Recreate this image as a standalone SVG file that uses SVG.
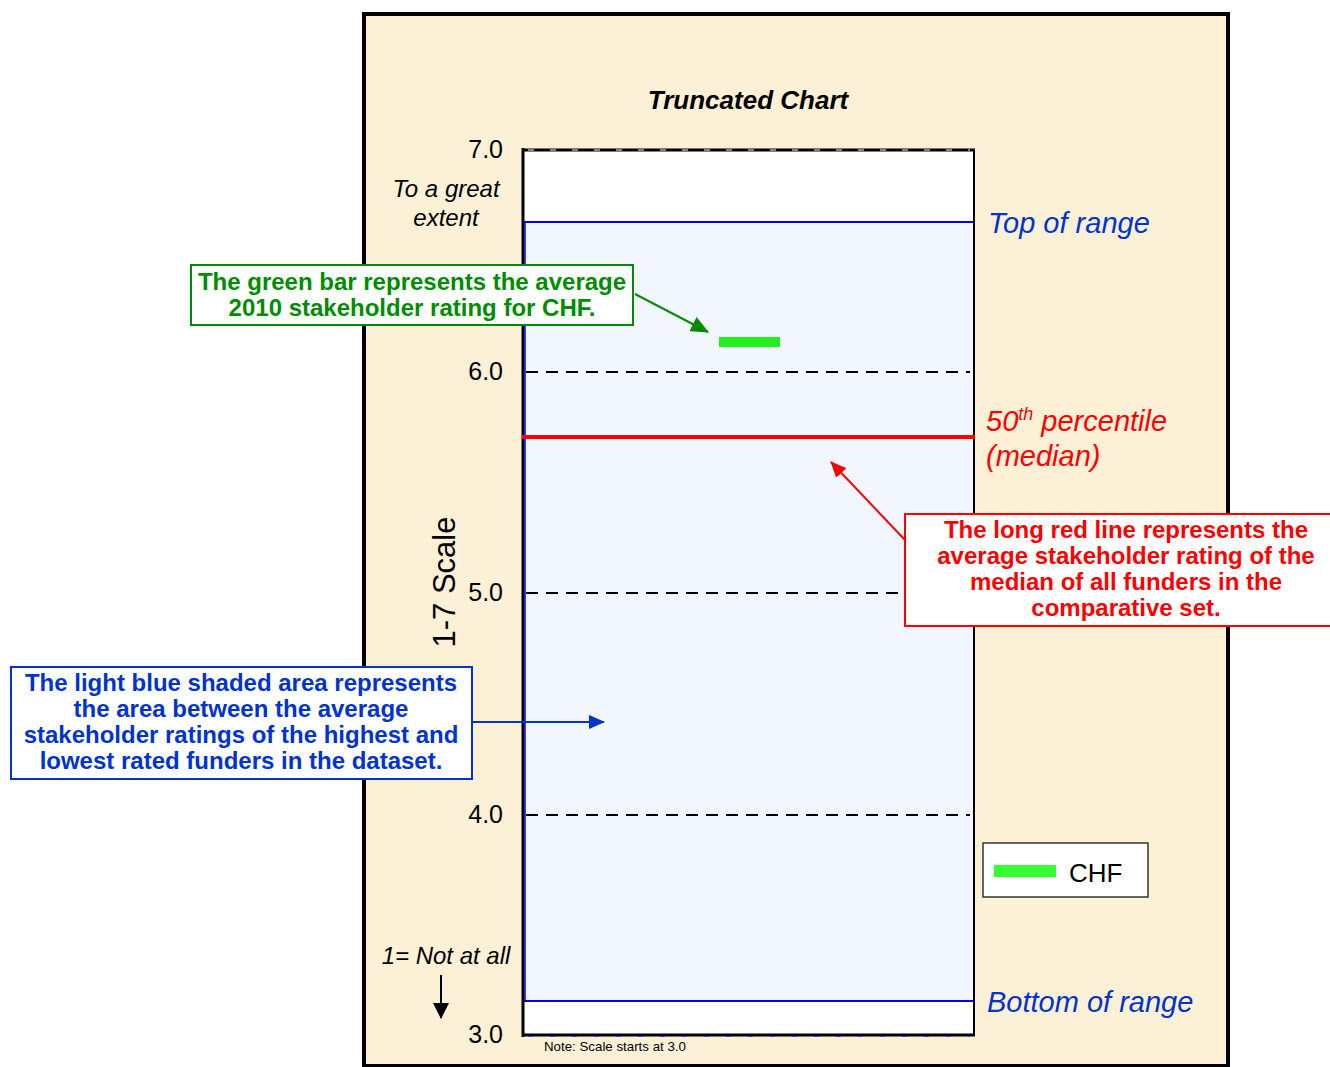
<svg xmlns="http://www.w3.org/2000/svg" width="1330" height="1067" viewBox="0 0 1330 1067">
<style>
text{font-family:"Liberation Sans",Arial,sans-serif}
.ax{font-size:25px;fill:#000;text-anchor:end}
.it{font-style:italic}
.grid{stroke:#000;stroke-width:2;stroke-dasharray:12 8}
.cg{fill:#008C00;font-weight:bold;font-size:24px;text-anchor:middle}
.cr{fill:#FF0000;font-weight:bold;font-size:24px;text-anchor:middle}
.cb{fill:#0033CC;font-weight:bold;font-size:24px;text-anchor:middle}
.lbl{font-size:29px;font-style:italic}
</style>
<defs>
<marker id="agL" markerWidth="18" markerHeight="16" refX="17" refY="8" orient="auto" markerUnits="userSpaceOnUse"><path d="M0,0 L18,8 L0,16 z" fill="#008C00"/></marker>
<marker id="ar" markerWidth="16" markerHeight="14" refX="15" refY="7" orient="auto" markerUnits="userSpaceOnUse"><path d="M0,0 L16,7 L0,14 z" fill="#FF0000"/></marker>
<marker id="ab" markerWidth="16" markerHeight="14" refX="15" refY="7" orient="auto" markerUnits="userSpaceOnUse"><path d="M0,0 L16,7 L0,14 z" fill="#0033CC"/></marker>
<marker id="ak" markerWidth="16" markerHeight="16" refX="15" refY="8" orient="auto" markerUnits="userSpaceOnUse"><path d="M0,0 L16,8 L0,16 z" fill="#000"/></marker>
</defs>

<g id="frame">
<rect x="364" y="14" width="864" height="1052" fill="#FCF1D6" stroke="#000" stroke-width="4"/>
</g>

<g id="plot">
<rect x="523" y="150" width="451" height="885" fill="#FFFFFF"/>
<rect x="523" y="222" width="451" height="779" fill="#F2F6FF"/>
<line x1="523" y1="222" x2="974" y2="222" stroke="#0000EE" stroke-width="2"/>
<line x1="523" y1="1001" x2="974" y2="1001" stroke="#0000EE" stroke-width="2"/>
<line class="grid" x1="526" y1="372" x2="970" y2="372"/>
<line class="grid" x1="526" y1="593" x2="970" y2="593"/>
<line class="grid" x1="526" y1="815" x2="970" y2="815"/>
<line x1="522" y1="150" x2="975" y2="150" stroke="#000" stroke-width="3"/>
<line x1="528" y1="150" x2="970" y2="150" stroke="#FFF" stroke-width="1" stroke-dasharray="6 16"/>
<line x1="522" y1="1035" x2="975" y2="1035" stroke="#000" stroke-width="3"/>
<line x1="528" y1="1036" x2="970" y2="1036" stroke="#0000EE" stroke-width="1" stroke-dasharray="5 17"/>
<line x1="523" y1="148" x2="523" y2="1037" stroke="#000" stroke-width="3"/>
<line x1="525" y1="222" x2="525" y2="1001" stroke="#0000EE" stroke-width="1.5"/>
<line x1="974" y1="149" x2="974" y2="1036" stroke="#000" stroke-width="2"/>
<line x1="522" y1="437" x2="975" y2="437" stroke="#FF0000" stroke-width="4"/>
<rect x="719" y="337" width="61" height="10" fill="#22EE22"/>
</g>

<g id="axis-labels">
<text class="ax" x="503" y="158">7.0</text>
<text class="ax" x="503" y="380">6.0</text>
<text class="ax" x="503" y="601">5.0</text>
<text class="ax" x="503" y="823">4.0</text>
<text class="ax" x="503" y="1043">3.0</text>
<text class="it" x="446" y="197" font-size="24" text-anchor="middle">To a great</text>
<text class="it" x="446" y="226" font-size="24" text-anchor="middle">extent</text>
<text x="444" y="582" font-size="31" text-anchor="middle" transform="rotate(-90 444 582)" dy="11">1-7 Scale</text>
<text class="it" x="446" y="964" font-size="24" text-anchor="middle">1= Not at all</text>
<text x="748" y="109" font-size="26" font-weight="bold" font-style="italic" text-anchor="middle">Truncated Chart</text>
<text x="544" y="1051" font-size="13.3">Note: Scale starts at 3.0</text>
</g>

<g id="range-labels">
<text class="lbl" x="988" y="233" fill="#0033CC">Top of range</text>
<text class="lbl" x="986" y="431" fill="#FF0000">50<tspan font-size="18" dy="-11">th</tspan><tspan dy="11"> percentile</tspan></text>
<text class="lbl" x="986" y="466" fill="#FF0000">(median)</text>
<text class="lbl" x="987" y="1012" fill="#0033CC">Bottom of range</text>
</g>

<g id="legend">
<rect x="983" y="843" width="165" height="54" fill="#FFFFFF" stroke="#333" stroke-width="1.5"/>
<rect x="994" y="865" width="62" height="12" fill="#33FF33"/>
<text x="1069" y="882" font-size="26">CHF</text>
</g>

<g id="callout-green">
<rect x="191" y="265" width="442" height="60" fill="#FFFFFF" stroke="#008C00" stroke-width="2"/>
<text class="cg" x="412" y="290">The green bar represents the average</text>
<text class="cg" x="412" y="316">2010 stakeholder rating for CHF.</text>
</g>

<g id="callout-red">
<rect x="905" y="514" width="430" height="112" fill="#FFFFFF" stroke="#FF0000" stroke-width="2"/>
<text class="cr" x="1126" y="538">The long red line represents the</text>
<text class="cr" x="1126" y="564">average stakeholder rating of the</text>
<text class="cr" x="1126" y="590">median of all funders in the</text>
<text class="cr" x="1126" y="616">comparative set.</text>
</g>

<g id="callout-blue">
<rect x="11" y="667" width="461" height="112" fill="#FFFFFF" stroke="#0033CC" stroke-width="2"/>
<text class="cb" x="241" y="691">The light blue shaded area represents</text>
<text class="cb" x="241" y="717">the area between the average</text>
<text class="cb" x="241" y="743">stakeholder ratings of the highest and</text>
<text class="cb" x="241" y="769">lowest rated funders in the dataset.</text>
</g>

<g id="connectors">
<line x1="635" y1="294" x2="708" y2="332" stroke="#008C00" stroke-width="2" marker-end="url(#agL)"/>
<line x1="905" y1="540" x2="831" y2="462" stroke="#FF0000" stroke-width="2" marker-end="url(#ar)"/>
<line x1="472" y1="722" x2="604" y2="722" stroke="#0033CC" stroke-width="2" marker-end="url(#ab)"/>
<line x1="441" y1="975" x2="441" y2="1018" stroke="#000" stroke-width="2" marker-end="url(#ak)"/>
</g>
</svg>
